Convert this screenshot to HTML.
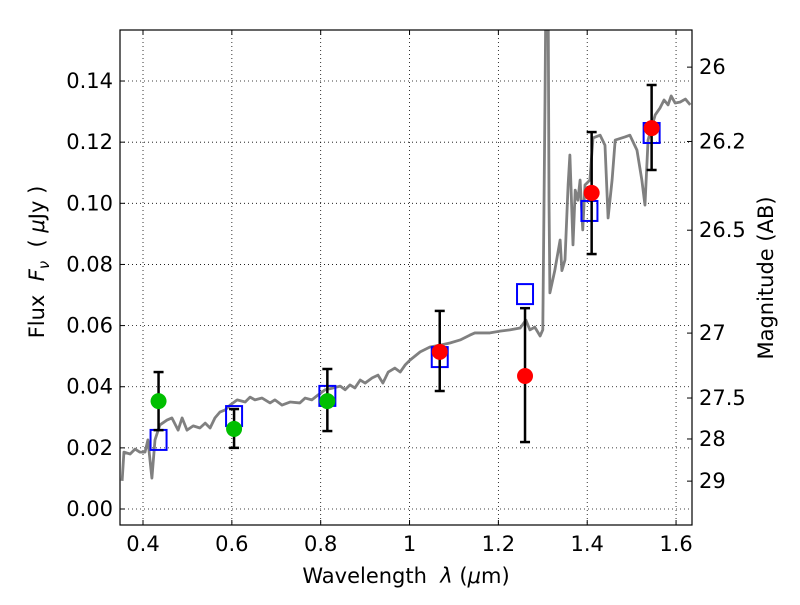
<!DOCTYPE html>
<html><head><meta charset="utf-8"><style>
body{margin:0;background:#fff}
svg{font-family:"DejaVu Sans","Liberation Sans",sans-serif}
</style></head><body>
<svg id="c" width="800" height="600"></svg>
<script>
const specW=[0.353,0.357,0.371,0.382,0.393,0.4045,0.411,0.420,0.427,0.438,0.454,0.465,0.479,0.488,0.499,0.513,0.528,0.540,0.551,0.562,0.573,0.585,0.596,0.612,0.630,0.641,0.652,0.668,0.686,0.697,0.713,0.731,0.753,0.765,0.780,0.794,0.810,0.828,0.844,0.855,0.866,0.877,0.889,0.900,0.916,0.929,0.940,0.952,0.967,0.979,0.990,1.001,1.024,1.046,1.069,1.091,1.114,1.136,1.147,1.181,1.204,1.226,1.249,1.262,1.271,1.282,1.294,1.300,1.305,1.307,1.312,1.314,1.316,1.327,1.339,1.343,1.350,1.357,1.361,1.368,1.373,1.379,1.384,1.390,1.395,1.406,1.413,1.429,1.440,1.447,1.456,1.463,1.485,1.496,1.512,1.523,1.530,1.537,1.553,1.564,1.573,1.582,1.589,1.598,1.609,1.621,1.632];
const specF=[0.0092,0.0186,0.018,0.0196,0.0186,0.0186,0.0226,0.0101,0.0226,0.0275,0.0291,0.0298,0.0258,0.0298,0.0258,0.0272,0.0265,0.0281,0.0265,0.0298,0.0317,0.0324,0.034,0.0357,0.035,0.0366,0.0357,0.0363,0.0347,0.0357,0.034,0.035,0.0347,0.0363,0.0357,0.0373,0.039,0.0396,0.0402,0.039,0.0406,0.0396,0.0422,0.0412,0.0429,0.0438,0.0412,0.0448,0.0461,0.0448,0.0471,0.0487,0.0514,0.053,0.0536,0.0543,0.0553,0.0569,0.0576,0.0576,0.0582,0.0586,0.0592,0.0618,0.0586,0.0595,0.0566,0.0586,0.134,0.17,0.17,0.101,0.0707,0.078,0.088,0.078,0.0815,0.106,0.1158,0.0864,0.1043,0.101,0.1076,0.0913,0.106,0.1076,0.1214,0.1223,0.119,0.0952,0.1076,0.1207,0.1217,0.1223,0.1174,0.1076,0.0994,0.1207,0.1289,0.1312,0.1338,0.1322,0.1351,0.1328,0.1331,0.1341,0.1322];
const greenW=[0.435,0.605,0.815];
const greenF=[0.0353,0.0262,0.0353];
const greenLo=[0.0258,0.020,0.0255];
const greenHi=[0.0448,0.0327,0.0458];
const redW=[1.068,1.26,1.41,1.545];
const redF=[0.0514,0.0435,0.1034,0.1246];
const redLo=[0.0386,0.0219,0.0834,0.1109];
const redHi=[0.0648,0.0657,0.1233,0.1387];
const boxW=[0.435,0.605,0.815,1.068,1.26,1.405,1.545];
const boxF=[0.0226,0.0304,0.037,0.0497,0.0703,0.0975,0.123];
const xTicks=[0.4,0.6,0.8,1.0,1.2,1.4,1.6];
const xTickLabels=["0.4","0.6","0.8","1","1.2","1.4","1.6"];
const yTicks=[0,0.02,0.04,0.06,0.08,0.10,0.12,0.14];
const yTickLabels=["0.00","0.02","0.04","0.06","0.08","0.10","0.12","0.14"];
const magTicks=[26,26.2,26.5,27,27.5,28,29];
const magLabels=["26","26.2","26.5","27","27.5","28","29"];

const L=120,R=692,T=30,B=525,X0=0.3482,X1=1.6359,Y0=-0.00523,Y1=0.15669;
const sx=w=>L+(w-X0)/(X1-X0)*(R-L);
const sy=f=>B-(f-Y0)/(Y1-Y0)*(B-T);
const NS="http://www.w3.org/2000/svg";
const svg=document.getElementById('c');
function mk(t,a,p){const e=document.createElementNS(NS,t);for(const k in a)e.setAttribute(k,a[k]);(p||svg).appendChild(e);return e;}
const clip=mk('clipPath',{id:'cl'});mk('rect',{x:L,y:T,width:R-L,height:B-T},clip);
xTicks.forEach((v,i)=>{const g=mk('line',{x1:sx(v),x2:sx(v),y1:T,y2:B,stroke:'#000','stroke-width':0.8,'stroke-dasharray':'1,3'});


mk('line',{x1:sx(v),x2:sx(v),y1:B,y2:B-5,stroke:'#000'});mk('line',{x1:sx(v),x2:sx(v),y1:T,y2:T+5,stroke:'#000'});
const t=mk('text',{x:sx(v),y:B+26,'text-anchor':'middle','font-size':21});t.textContent=xTickLabels[i];

});
yTicks.forEach((v,i)=>{const g=mk('line',{x1:L,x2:R,y1:sy(v),y2:sy(v),stroke:'#000','stroke-width':0.8,'stroke-dasharray':'1,3'});


mk('line',{x1:L,x2:L+5,y1:sy(v),y2:sy(v),stroke:'#000'});
const t=mk('text',{x:L-7,y:sy(v)+7,'text-anchor':'end','font-size':21});t.textContent=yTickLabels[i];

});
magTicks.forEach((m,i)=>{const y=sy(Math.pow(10,(23.9-m)/2.5));mk('line',{x1:R-5,x2:R,y1:y,y2:y,stroke:'#000'});
const t=mk('text',{x:R+7,y:y+7,'font-size':21});t.textContent=magLabels[i];

});
const g=mk('g',{'clip-path':'url(#cl)'});
const pl=mk('polyline',{points:specW.map((w,i)=>sx(w)+','+sy(specF[i])).join(' '),fill:'none',stroke:'#808080','stroke-width':2.8,'stroke-linejoin':'round'},g);


boxW.forEach((w,i)=>{const r=mk('rect',{x:sx(w)-8,y:sy(boxF[i])-10,width:16,height:20,fill:'none',stroke:'#0000ff','stroke-width':2},g);

});
function pts(W,F,Lo,Hi,col,name){W.forEach((w,i)=>{const x=sx(w);
const e=mk('g',{stroke:'#000','stroke-width':2.5},g);


mk('line',{x1:x,x2:x,y1:sy(Lo[i]),y2:sy(Hi[i])},e);mk('line',{x1:x-5,x2:x+5,y1:sy(Lo[i]),y2:sy(Lo[i])},e);mk('line',{x1:x-5,x2:x+5,y1:sy(Hi[i]),y2:sy(Hi[i])},e);
const c=mk('circle',{cx:x,cy:sy(F[i]),r:8,fill:col},g);

});}
pts(greenW,greenF,greenLo,greenHi,'#00bf00','optical-flux-point');
pts(redW,redF,redLo,redHi,'#ff0000','nir-flux-point');
const fr=mk('rect',{x:L,y:T,width:R-L,height:B-T,fill:'none',stroke:'#000','stroke-width':1.2});


let t=mk('text',{x:406,y:583,'text-anchor':'middle','font-size':21});t.innerHTML='Wavelength &#160;<tspan font-style="italic">λ</tspan> (<tspan font-style="italic">μ</tspan>m)';


t=mk('text',{x:0,y:0,'text-anchor':'middle','font-size':21,transform:'translate(44,262) rotate(-90)'});t.innerHTML='Flux &#160;<tspan font-style="italic">F</tspan><tspan font-style="italic" font-size="15" dy="5">ν</tspan><tspan dy="-5"> &#160;( </tspan><tspan font-style="italic">μ</tspan>Jy )';


t=mk('text',{x:0,y:0,'text-anchor':'middle','font-size':21,transform:'translate(773,278) rotate(-90)'});t.textContent='Magnitude (AB)';


</script>
</body></html>
